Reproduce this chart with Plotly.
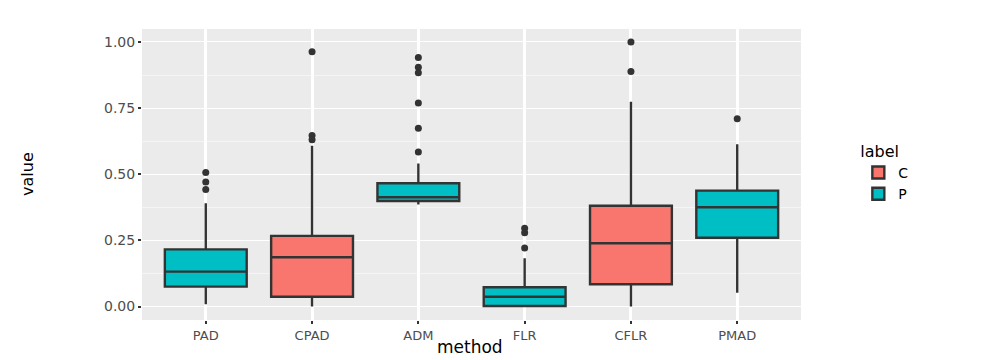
import plotly.graph_objects as go

# box summaries (ggplot-style boxplot)
methods = ["PAD", "CPAD", "ADM", "FLR", "CFLR", "PMAD"]
labels = ["P", "C", "P", "P", "C", "P"]
lower = [0.009, 0.000, 0.386, 0.000, 0.000, 0.052]
q1 = [0.075, 0.037, 0.399, 0.002, 0.084, 0.260]
median = [0.132, 0.186, 0.413, 0.037, 0.239, 0.375]
q3 = [0.216, 0.267, 0.466, 0.073, 0.381, 0.438]
upper = [0.390, 0.608, 0.541, 0.182, 0.774, 0.613]
outliers = [
    [0.507, 0.471, 0.442],
    [0.963, 0.646, 0.630],
    [0.941, 0.904, 0.884, 0.769, 0.674, 0.584],
    [0.296, 0.279, 0.221],
    [1.000, 0.888],
    [0.710],
]

fill = {"C": "#F8766D", "P": "#00BFC4"}
ink = "#333333"

fig = go.Figure()

for lab in ["C", "P"]:
    idx = [i for i, l in enumerate(labels) if l == lab]
    fig.add_trace(go.Box(
        name=lab,
        x=[methods[i] for i in idx],
        q1=[q1[i] for i in idx],
        median=[median[i] for i in idx],
        q3=[q3[i] for i in idx],
        lowerfence=[lower[i] for i in idx],
        upperfence=[upper[i] for i in idx],
        fillcolor=fill[lab],
        line=dict(color=ink, width=2.4),
        whiskerwidth=0,
        width=0.77,
        boxpoints=False,
        hoverinfo="skip",
    ))

# outlier points
ox, oy = [], []
for m, pts in zip(methods, outliers):
    ox += [m] * len(pts)
    oy += pts
fig.add_trace(go.Scatter(
    x=ox, y=oy, mode="markers",
    marker=dict(color=ink, size=7),
    showlegend=False, hoverinfo="skip",
))

# page body adds an 8px margin, so the figure is 8px smaller each way
fig.update_layout(
    width=989, height=352,
    margin=dict(l=134, r=196, t=21, b=40),
    paper_bgcolor="white",
    plot_bgcolor="#EBEBEB",
    boxmode="overlay",
    font=dict(family="DejaVu Sans, Liberation Sans, sans-serif", color="black"),
    legend=dict(
        title=dict(text="label", font=dict(size=16)),
        x=1.087, y=0.632, xanchor="left", yanchor="top",
        font=dict(size=14),
        bgcolor="white",
        tracegroupgap=0,
    ),
    annotations=[
        dict(text="method", xref="paper", yref="paper", x=0.497, y=-0.094,
             xanchor="center", yanchor="middle", showarrow=False,
             font=dict(size=17)),
        dict(text="value", xref="paper", yref="paper", x=-0.173, y=0.502,
             xanchor="center", yanchor="middle", showarrow=False,
             textangle=-90, font=dict(size=16)),
    ],
)

fig.update_xaxes(
    automargin=False,
    categoryorder="array", categoryarray=methods,
    range=[-0.6, 5.6],
    showgrid=True, gridcolor="white", gridwidth=2.5,
    ticks="outside", ticklen=3, tickcolor=ink, tickwidth=1.5,
    tickfont=dict(size=13, color="#4D4D4D"),
    zeroline=False, showline=False,
)
fig.update_yaxes(
    automargin=False,
    range=[-0.051, 1.049],
    tickmode="array", tickvals=[0, 0.25, 0.5, 0.75, 1.0],
    ticktext=["0.00", "0.25", "0.50", "0.75", "1.00"],
    showgrid=True, gridcolor="white", gridwidth=1.4,
    minor=dict(tickvals=[0.125, 0.375, 0.625, 0.875], showgrid=True,
               gridcolor="#F5F5F5", gridwidth=0.8),
    ticks="outside", ticklen=3, tickcolor=ink, tickwidth=1.5,
    tickfont=dict(size=14, color="#4D4D4D"),
    zeroline=False, showline=False,
)

fig.write_html("out.html")
